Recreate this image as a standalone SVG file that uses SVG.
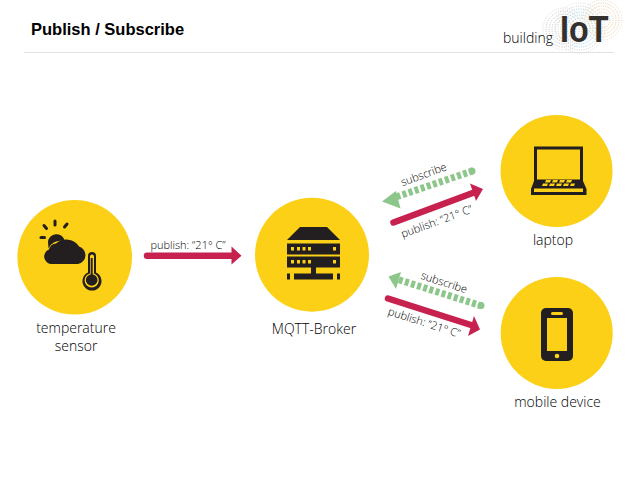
<svg xmlns="http://www.w3.org/2000/svg" width="638" height="479" viewBox="0 0 638 479">
<style>
.c{fill:#fbd016}
.i{fill:#231f20}
.l{font-family:"Open Sans",sans-serif;font-weight:300;font-size:14px;fill:#000;text-anchor:middle}
.a{font-family:"Open Sans",sans-serif;font-weight:300;font-size:11px;fill:#000;text-anchor:middle}
.p{stroke:#c7224f;stroke-width:6.5;stroke-linecap:round;fill:none}
.ph{fill:#c7224f}
.s{stroke:#8dc68a;stroke-width:7;stroke-dasharray:4 2.400;fill:none}
.sh{fill:#8dc68a}
.r{fill:none;stroke-dasharray:1 1.300;stroke-width:1}
</style>
<rect width="638" height="479" fill="#fff"/>
<g id="header">
<text x="31" y="35" font-family="Liberation Sans,sans-serif" font-weight="700" font-size="16.500" fill="#000">Publish / Subscribe</text>
<line x1="24" y1="52.500" x2="614" y2="52.500" stroke="#e2e2e2"/>
</g>
<g id="logo">
<g stroke="#c4c4c4"><circle class="r" cx="564" cy="29" r="9"/><circle class="r" cx="564" cy="29" r="12"/><circle class="r" cx="564" cy="29" r="15"/><circle class="r" cx="564" cy="29" r="18"/><circle class="r" cx="564" cy="29" r="21" stroke="#ddd"/></g>
<g stroke="#9fd3de"><circle class="r" cx="580" cy="28" r="10"/><circle class="r" cx="580" cy="28" r="13"/><circle class="r" cx="580" cy="28" r="16"/><circle class="r" cx="580" cy="28" r="19"/><circle class="r" cx="580" cy="28" r="22" stroke="#cfcfcf"/><circle class="r" cx="580" cy="28" r="25" stroke="#ddd"/></g>
<g stroke="#e8c896"><circle class="r" cx="602" cy="20" r="8"/><circle class="r" cx="602" cy="20" r="11"/><circle class="r" cx="602" cy="20" r="14"/><circle class="r" cx="602" cy="20" r="17"/><circle class="r" cx="602" cy="20" r="20" stroke="#e6dccb"/></g>
<text x="503" y="43" font-family="Open Sans,sans-serif" font-weight="300" font-size="14" fill="#000">building</text>
<text x="560" y="42" font-family="Liberation Sans,sans-serif" font-weight="700" font-size="37" fill="#33302e" textLength="48.500" lengthAdjust="spacingAndGlyphs">IoT</text>
</g>
<g id="connectors">
<g id="c1"><line class="p" x1="147" y1="255.700" x2="233" y2="255.700"/><path class="ph" d="M231.500 246.500L241.500 255.700L231.500 264.500Z"/></g>
<g id="c2"><line class="p" x1="393.500" y1="222.500" x2="474" y2="192.500"/><path class="ph" d="M470 183.500L483 189L476 201Z"/></g>
<g id="c3"><line class="s" x1="473" y1="170.800" x2="393" y2="198"/><circle class="sh" cx="472" cy="171" r="3.500"/><path class="sh" d="M396 191L382 201.500L400.500 208.500Z"/></g>
<g id="c4"><line class="p" x1="388" y1="298.500" x2="471" y2="325"/><path class="ph" d="M474 316L480 329.500L468 336Z"/></g>
<g id="c5"><line class="s" x1="482" y1="306" x2="398" y2="279.500"/><circle class="sh" cx="481" cy="305.500" r="3.500"/><path class="sh" d="M401 272L388.500 276.500L396 289Z"/></g>
</g>
<g id="labels">
<text class="a" x="188" y="248.500">publish: “21° C”</text>
<text class="a" transform="translate(425 178) rotate(-20)">subscribe</text>
<text class="a" transform="translate(438 225) rotate(-20)">publish: “21° C”</text>
<text class="a" transform="translate(443 286) rotate(18)">subscribe</text>
<text class="a" transform="translate(423 326) rotate(18)">publish: “21° C”</text>
</g>
<g id="temperature-sensor">
<circle class="c" cx="74.700" cy="257.300" r="57.300"/>
<path class="i" d="M48 241.500a8.500 8.500 0 0 1 16.500 -1.500l-2 1a13 13 0 0 0 -14 7.500Z"/>
<g stroke="#231f20" stroke-width="3" stroke-linecap="round"><line x1="55" y1="221" x2="55" y2="225"/><line x1="44" y1="225.500" x2="46.500" y2="228.500"/><line x1="67" y1="224" x2="64.500" y2="227"/><line x1="41" y1="237.500" x2="44.500" y2="237.500"/></g>
<path class="i" d="M52 264a7.500 7.500 0 0 1 -3 -14.500a7 7 0 0 1 7 -6a14 12 0 0 1 23 3a9 9 0 0 1 -1 17.500Z"/>
<path class="i" d="M88 256a4 4 0 0 1 8 0v16.500a9.500 9.500 0 1 1 -8 0Z"/>
<path class="c" d="M90 256.500a2 2 0 0 1 4 0v17a7.500 7.500 0 0 1 4.800 7a7.100 7.100 0 0 1 -14.200 0a7.500 7.500 0 0 1 5.400 -7Z"/>
<circle class="i" cx="91.700" cy="280" r="5.800"/><rect class="i" x="90.700" y="258" width="2" height="18"/>
<text class="l" x="76" y="332.500">temperature</text>
<text class="l" x="76" y="351">sensor</text>
</g>
<g id="mqtt-broker">
<circle class="c" cx="312" cy="254.700" r="57"/>
<path class="i" d="M300 227H327L340 240H287Z"/>
<rect class="i" x="287" y="243.500" width="53" height="11"/>
<rect class="i" x="287" y="256.500" width="53" height="11"/>
<g class="c"><rect x="291" y="247" width="3" height="3.500"/><rect x="297" y="247" width="3" height="3.500"/><rect x="302.500" y="247" width="3" height="3.500"/><rect x="308" y="247" width="3" height="3.500"/><rect x="333" y="247" width="3" height="3.500"/><rect x="291" y="260" width="3" height="3.500"/><rect x="297" y="260" width="3" height="3.500"/><rect x="302.500" y="260" width="3" height="3.500"/><rect x="308" y="260" width="3" height="3.500"/><rect x="333" y="260" width="3" height="3.500"/></g>
<rect class="i" x="311" y="267" width="5" height="8"/>
<rect class="i" x="287" y="273.500" width="3" height="6"/><rect class="i" x="294" y="273.500" width="39" height="6"/><rect class="i" x="337" y="273.500" width="3" height="6"/>
<text class="l" x="314" y="333.500">MQTT-Broker</text>
</g>
<g id="laptop">
<circle class="c" cx="556.500" cy="171" r="56"/>
<rect x="535.500" y="148" width="46" height="33" fill="none" stroke="#231f20" stroke-width="3"/>
<path class="i" d="M534 181H583L586.500 189V195H531V189Z"/>
<rect class="c" x="534" y="188.500" width="49" height="3.500"/>
<g class="c"><path d="M546 180h5l-1 2.500h-5ZM553 180h5l-1 2.500h-5ZM560 180h5l-1 2.500h-5ZM567 180h5l-1 2.500h-5Z"/><path d="M543 183.500h5l-1 2.500h-5ZM550 183.500h5l-1 2.500h-5ZM557 183.500h5l-1 2.500h-5ZM564 183.500h5l-1 2.500h-5ZM571 183.500h4l-1 2.500h-4Z"/></g>
<text class="l" x="553" y="245">laptop</text>
</g>
<g id="mobile-device">
<circle class="c" cx="556.700" cy="333" r="56"/>
<rect class="i" x="541" y="308" width="32" height="53" rx="5"/>
<rect class="c" x="547" y="318" width="20" height="33"/>
<rect class="c" x="551" y="312" width="12" height="3" rx="1.500"/>
<circle class="c" cx="557" cy="356" r="2.300"/>
<text class="l" x="557.500" y="407">mobile device</text>
</g>
</svg>
